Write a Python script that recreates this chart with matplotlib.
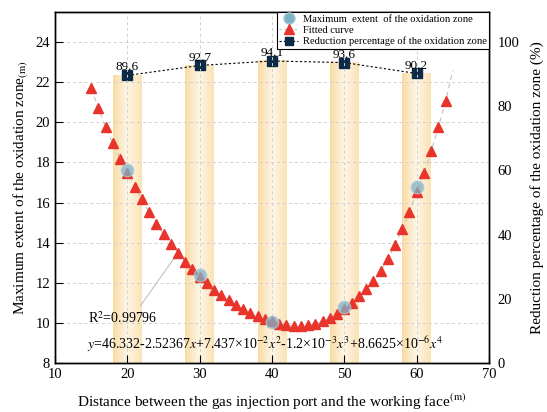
"""Oxidation zone extent vs. gas injection distance, with reduction percentage."""
import matplotlib
matplotlib.use('Agg')
import matplotlib.pyplot as plt
from matplotlib.colors import LinearSegmentedColormap
from matplotlib.lines import Line2D
import numpy as np

plt.rcParams.update({
    'font.family': 'serif',
    'font.serif': ['Liberation Serif', 'DejaVu Serif'],
    'mathtext.fontset': 'stix',
    'font.size': 9,
    'axes.linewidth': 1.0,
})

# measured points
dist = [20, 30, 40, 50, 60]
max_extent = [17.6, 12.4, 10.05, 10.8, 16.75]
reduction = [89.6, 92.7, 94.1, 93.6, 90.2]

# fitted curve samples
fit_x = list(range(15, 65))
fit_y = [21.69, 20.69, 19.77, 18.95, 18.19, 17.49, 16.79, 16.15, 15.52, 14.95,
         14.42, 13.94, 13.50, 13.05, 12.67, 12.30, 11.98, 11.66, 11.37, 11.12,
         10.90, 10.68, 10.48, 10.32, 10.18, 10.07, 9.96, 9.89, 9.85, 9.85,
         9.88, 9.95, 10.07, 10.24, 10.45, 10.70, 11.00, 11.32, 11.68, 12.10,
         12.60, 13.18, 13.88, 14.68, 15.55, 16.50, 17.45, 18.55, 19.75, 21.07]
# the dashed guide runs a little past the last marker
curve_x = fit_x + [65]
curve_y = fit_y + [22.6]

fig = plt.figure(figsize=(5.47, 4.12), dpi=100)
ax = fig.add_axes([0.1006, 0.119, 0.7934, 0.852])
ax2 = ax.twinx()
ax.set_zorder(ax2.get_zorder() + 1)
ax.patch.set_visible(False)

# gradient bars for reduction percentage (right axis)
bar_cmap = LinearSegmentedColormap.from_list('bar', ['#f9dca4', '#fef6e7', '#fae3b6'])
grad = np.linspace(0, 1, 64).reshape(1, -1)
for x, p in zip(dist, reduction):
    ax2.imshow(grad, cmap=bar_cmap, aspect='auto', extent=[x - 2, x + 2, 0, p],
               zorder=1, interpolation='bicubic')
ax2.plot(dist, reduction, color='black', lw=0.8, ls=(0, (2, 2)), zorder=3)
ax2.plot(dist, reduction, ls='none', marker='s', ms=6.5, color='#0d2a47', zorder=4)
for x, p in zip(dist, reduction):
    ax2.text(x, p + 0.6, f'{p}', ha='center', va='bottom', fontsize=9.5, zorder=5)

ax2.set_ylim(0, 109.375)
ax2.set_yticks(range(0, 101, 20))
ax2.tick_params(axis='y', direction='in', labelsize=10.5, length=0, pad=6)
ax2.set_ylabel('Reduction percentage of the oxidation zone (%)', fontsize=11, labelpad=8)
ax2.set_xlim(10, 70)

# fitted curve and measured extent (left axis)
ax.plot(curve_x, curve_y, color='#c8c8c8', lw=0.9, ls=(0, (4, 3)), zorder=3)
ax.plot(fit_x, fit_y, ls='none', marker='^', ms=6.5, color='#e9342b', zorder=4)
ax.plot(dist, max_extent, ls='none', marker='o', ms=9, color='#7fb1c6',
        mec='#a8cad8', mew=1.0, alpha=0.75, zorder=5)

ax.set_xlim(10, 70)
ax.set_ylim(8, 25.5)
ax.set_xticks(range(10, 71, 10))
ax.set_yticks(range(8, 25, 2))
ax.tick_params(direction='in', labelsize=10.5, length=6)
ax.grid(True, color='#d0d0d0', lw=0.7, ls=(0, (3, 3)))
ax.set_xlabel(r'Distance between the gas injection port and the working face$^{\rm (m)}$',
              fontsize=11, labelpad=8)
ax.set_ylabel(r'Maximum extent of the oxidation zone$_{\rm (m)}$', fontsize=11, labelpad=4)

ax.annotate(r'R$^2$=0.99796', xy=(fit_x[12], fit_y[12]), xytext=(14.5, 10.25),
            fontsize=10, va='center', ha='left',
            arrowprops=dict(arrowstyle='-', color='#c0c0c0', lw=0.8,
                            relpos=(0.72, 1.0), shrinkA=1, shrinkB=4))
ax.text(14.4, 8.95,
        r'$y$=46.332-2.52367$x$+7.437×10$^{-2}$$x^2$-1.2×10$^{-3}$$x^3$+8.6625×10$^{-6}$$x^4$',
        fontsize=10, va='center', ha='left')

handles = [
    Line2D([], [], ls='none', marker='o', ms=8, color='#7fb1c6', mec='#a8cad8'),
    Line2D([], [], color='#c8c8c8', lw=0.9, ls=(0, (2, 2)), marker='^', ms=7,
           mfc='#e9342b', mec='#e9342b'),
    Line2D([], [], color='black', lw=0.8, ls=(0, (2, 2)), marker='s', ms=6,
           mfc='#0d2a47', mec='#0d2a47'),
]
labels = ['Maximum  extent  of the oxidation zone', 'Fitted curve',
          'Reduction percentage of the oxidation zone']
leg = ax.legend(handles, labels, loc='upper right', borderaxespad=0, fontsize=7.6,
                fancybox=False, framealpha=1, edgecolor='black', handlelength=1.8,
                handletextpad=0.4, labelspacing=0.15, borderpad=0.25)
leg.get_frame().set_linewidth(0.8)

fig.savefig('out.png', dpi=100)
